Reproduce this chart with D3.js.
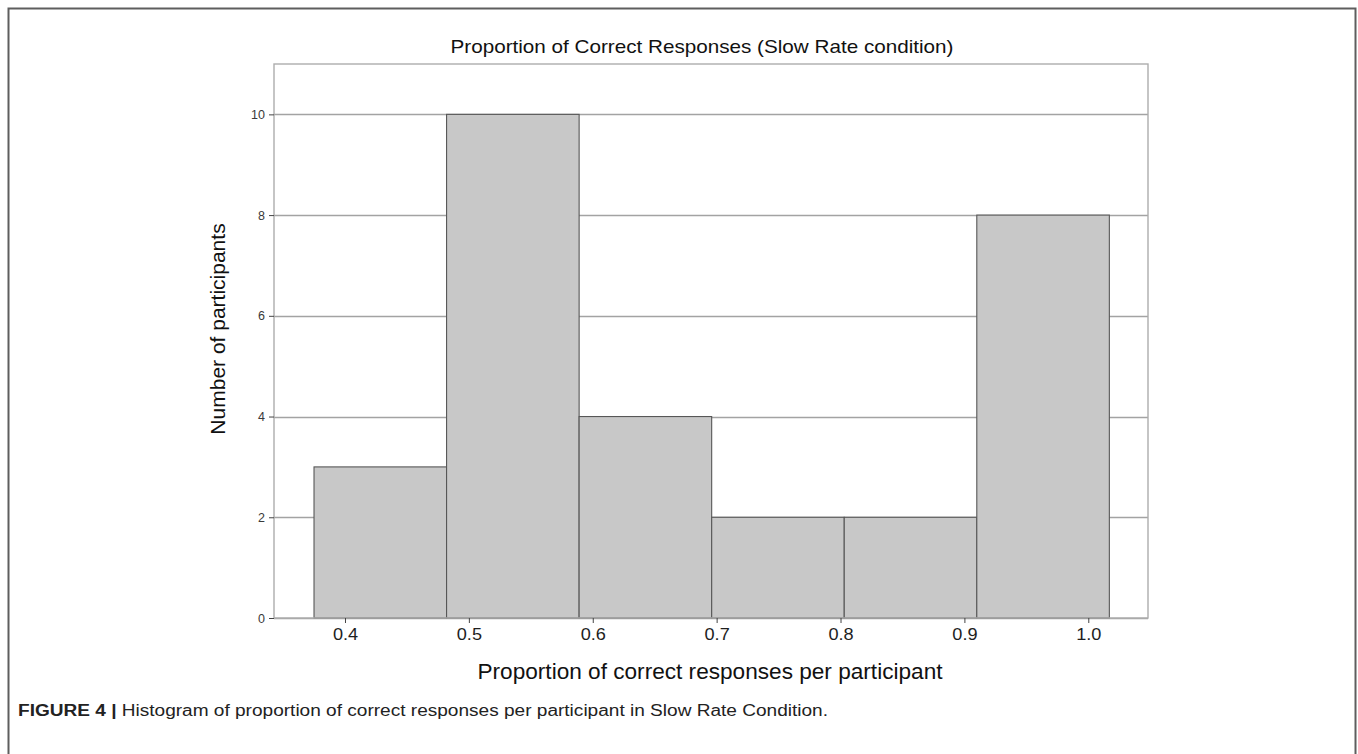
<!DOCTYPE html>
<html>
<head>
<meta charset="utf-8">
<script src="https://cdn.jsdelivr.net/npm/d3@7"></script>
<style>
html,body{margin:0;padding:0;background:#fff;}
svg{display:block;}
</style>
</head>
<body>
<svg id="chart" width="1358" height="754"></svg>
<script>
// Data
const binEdges = [0.375, 0.482, 0.589, 0.696, 0.803, 0.910, 1.017];
const counts = [3, 10, 4, 2, 2, 8];
const xTicks = [0.4, 0.5, 0.6, 0.7, 0.8, 0.9, 1.0];
const yTicks = [0, 2, 4, 6, 8, 10];
const titleText = "Proportion of Correct Responses (Slow Rate condition)";
const xLabel = "Proportion of correct responses per participant";
const yLabel = "Number of participants";
const captionBold = "FIGURE 4 |";
const captionText = " Histogram of proportion of correct responses per participant in Slow Rate Condition.";

const bins = counts.map((c, i) => ({x0: binEdges[i], x1: binEdges[i + 1], n: c}));

const svg = d3.select("#chart");
const FONT = "Liberation Sans, Arial, sans-serif";

// outer frame
svg.append("rect").attr("x", 8.5).attr("y", 8.5).attr("width", 1347).attr("height", 800)
  .attr("fill", "none").attr("stroke", "#5e5e5e").attr("stroke-width", 2);

const pLeft = 274, pRight = 1148, pTop = 64, pBottom = 618;
const x = d3.scaleLinear().domain([0.3427, 1.0482]).range([pLeft, pRight]);
const y = d3.scaleLinear().domain([0, 11]).range([pBottom, pTop]);

// gridlines
svg.append("g").selectAll("line").data(yTicks).join("line")
  .attr("x1", pLeft).attr("x2", pRight)
  .attr("y1", d => Math.round(y(d)) + 0.5).attr("y2", d => Math.round(y(d)) + 0.5)
  .attr("stroke", "#a3a3a3").attr("stroke-width", 1.3);

// bars
svg.append("g").selectAll("rect").data(bins).join("rect")
  .attr("x", d => x(d.x0))
  .attr("y", d => y(d.n))
  .attr("width", d => x(d.x1) - x(d.x0))
  .attr("height", d => y(0) - y(d.n))
  .attr("fill", "#c8c8c8")
  .attr("stroke", "#575757")
  .attr("stroke-width", 1.1);

// panel border
svg.append("rect").attr("x", pLeft).attr("y", pTop).attr("width", pRight - pLeft).attr("height", pBottom - pTop)
  .attr("fill", "none").attr("stroke", "#adadad").attr("stroke-width", 1.4);

// y axis
const yAxis = svg.append("g").attr("transform", `translate(${pLeft},0)`)
  .call(d3.axisLeft(y).tickValues(yTicks).tickSize(5).tickPadding(4).tickFormat(d3.format("d")));
yAxis.select(".domain").remove();
yAxis.selectAll(".tick line").attr("stroke", "#444");
yAxis.selectAll(".tick text").attr("fill", "#3a3a3a").style("font-family", FONT).style("font-size", "12.5px");

// x axis
const xAxis = svg.append("g").attr("transform", `translate(0,${pBottom})`)
  .call(d3.axisBottom(x).tickValues(xTicks).tickSize(5).tickPadding(5).tickFormat(d3.format(".1f")));
xAxis.select(".domain").remove();
xAxis.selectAll(".tick line").attr("stroke", "#444");
xAxis.selectAll(".tick text").attr("fill", "#1e1e1e").style("font-family", FONT).style("font-size", "16.5px")
  .attr("transform", "scale(1.1,1)");

// title
svg.append("text").attr("x", 702).attr("y", 53).attr("text-anchor", "middle")
  .style("font-family", FONT).style("font-size", "19px").attr("fill", "#111")
  .attr("textLength", 503).attr("lengthAdjust", "spacingAndGlyphs")
  .text(titleText);

// x label
svg.append("text").attr("x", 710).attr("y", 679).attr("text-anchor", "middle")
  .style("font-family", FONT).style("font-size", "21.5px").attr("fill", "#111")
  .attr("textLength", 465).attr("lengthAdjust", "spacingAndGlyphs")
  .text(xLabel);

// y label
svg.append("text").attr("transform", "translate(225,329) rotate(-90)").attr("text-anchor", "middle")
  .style("font-family", FONT).style("font-size", "21px").attr("fill", "#111")
  .text(yLabel);

// caption
const cap = svg.append("text").attr("x", 18).attr("y", 716)
  .style("font-family", FONT).style("font-size", "16px").attr("fill", "#222")
  .attr("textLength", 810).attr("lengthAdjust", "spacingAndGlyphs");
cap.append("tspan").style("font-weight", "bold").text(captionBold);
cap.append("tspan").text(captionText);
</script>
</body>
</html>
